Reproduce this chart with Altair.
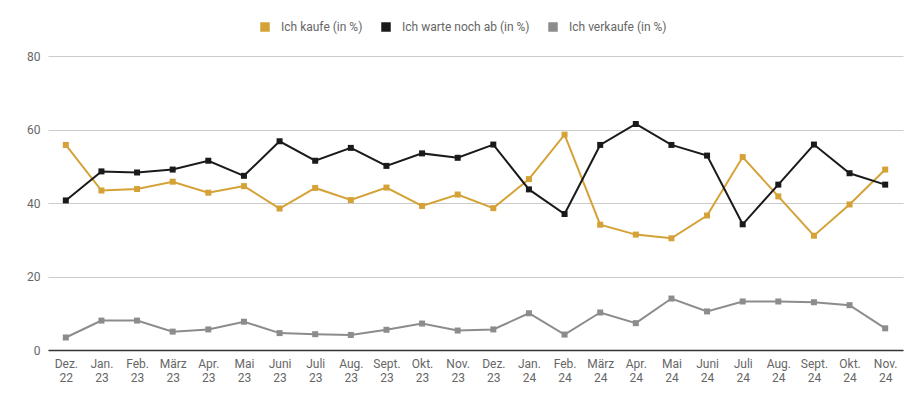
import altair as alt
import pandas as pd

months = ["Dez. 22", "Jan. 23", "Feb. 23", "März 23", "Apr. 23", "Mai 23", "Juni 23",
          "Juli 23", "Aug. 23", "Sept. 23", "Okt. 23", "Nov. 23", "Dez. 23",
          "Jan. 24", "Feb. 24", "März 24", "Apr. 24", "Mai 24", "Juni 24",
          "Juli 24", "Aug. 24", "Sept. 24", "Okt. 24", "Nov. 24"]

kaufe = [55.8, 43.4, 43.8, 45.8, 42.8, 44.6, 38.5, 44.1, 40.8, 44.2, 39.2, 42.3,
         38.6, 46.5, 58.6, 34.1, 31.4, 30.4, 36.6, 52.5, 41.8, 31.1, 39.6, 49.1]
warte = [40.7, 48.6, 48.3, 49.1, 51.5, 47.4, 56.8, 51.5, 55.0, 50.1, 53.5, 52.3,
         55.9, 43.7, 37.0, 55.8, 61.5, 55.8, 52.9, 34.2, 45.0, 55.9, 48.1, 45.0]
verkaufe = [3.4, 8.0, 8.0, 5.0, 5.6, 7.7, 4.6, 4.3, 4.1, 5.5, 7.2, 5.3,
            5.6, 10.0, 4.2, 10.2, 7.3, 14.0, 10.5, 13.2, 13.2, 13.0, 12.2, 5.9]

series_names = ["Ich kaufe (in %)", "Ich warte noch ab (in %)", "Ich verkaufe (in %)"]
colors = ["#d4a237", "#1a1a1a", "#8c8c8c"]

rows = []
for name, vals in zip(series_names, [kaufe, warte, verkaufe]):
    for i, (m, v) in enumerate(zip(months, vals)):
        rows.append({"Monat": m, "Serie": name, "Wert": v, "order": i})
df = pd.DataFrame(rows)

chart = alt.Chart(df).mark_line(
    strokeWidth=2,
    point=alt.OverlayMarkDef(shape="square", size=36, filled=True, opacity=1),
).encode(
    x=alt.X("Monat:N", sort=months, scale=alt.Scale(type="point", padding=0.5),
            axis=alt.Axis(title=None, labelAngle=0, ticks=False, grid=False,
                          domain=True, domainColor="#333333", domainWidth=1.5,
                          labelExpr="split(datum.label, ' ')",
                          labelLineHeight=14, labelPadding=8,
                          labelColor="#666666", labelFontSize=12,
                          labelFont="Roboto")),
    y=alt.Y("Wert:Q", scale=alt.Scale(domain=[0, 80]),
            axis=alt.Axis(title=None, values=[0, 20, 40, 60, 80], ticks=False,
                          domain=False, grid=True, gridColor="#cccccc",
                          labelPadding=8, labelColor="#666666", labelFontSize=12,
                          labelFont="Roboto")),
    color=alt.Color("Serie:N", sort=series_names,
                    scale=alt.Scale(domain=series_names, range=colors),
                    legend=alt.Legend(title=None, orient="none", direction="horizontal",
                                      legendX=211, legendY=-35,
                                      symbolType="square", symbolSize=90,
                                      labelFontSize=12, labelFont="Roboto",
                                      labelColor="#666666", columnPadding=17,
                                      labelOffset=10, symbolStrokeWidth=0)),
    order="order:Q",
).properties(
    width=855, height=294,
    padding={"left": 40, "top": 48, "right": 13, "bottom": 40},
    autosize=alt.AutoSizeParams(type="none"),
    view=alt.ViewBackground(stroke="transparent", strokeWidth=0),
).configure(
    font="Roboto",
    view=alt.ViewConfig(stroke="transparent", strokeWidth=0),
)

chart.save("out.html", embed_options={"renderer": "svg", "actions": False})
